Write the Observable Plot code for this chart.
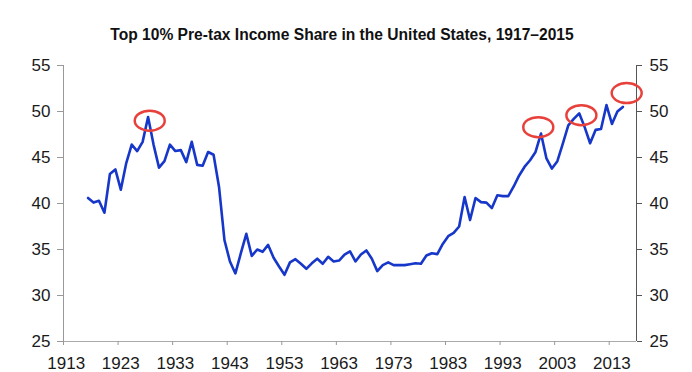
<!DOCTYPE html>
<html>
<head>
<meta charset="utf-8">
<script src="https://cdn.jsdelivr.net/npm/d3@7"></script>
<script src="https://cdn.jsdelivr.net/npm/@observablehq/plot@0.6"></script>
<style>
  html, body { margin: 0; padding: 0; background: #fff; }
  #title {
    width: 692px; height: 42px; box-sizing: border-box;
    padding-top: 26.6px; padding-right: 8px;
    font: bold 15.6px "Liberation Sans", Arial, sans-serif; line-height: 16px;
    text-align: center; color: #111; white-space: nowrap;
  }
</style>
</head>
<body>
<div id="title">Top 10% Pre-tax Income Share in the United States, 1917–2015</div>
<div id="chart"></div>
<script>
// Years 1917..2015 (categories)
const years = d3.range(1917, 2016);
// Top 10% pre-tax income share (%)
const shares = [
  40.6, 40.1, 40.3, 39.0, 43.2, 43.7, 41.5, 44.4, 46.4, 45.7,   // 1917-1926
  46.7, 49.4, 46.4, 43.9, 44.6, 46.4, 45.7, 45.8, 44.5, 46.7,   // 1927-1936
  44.2, 44.1, 45.6, 45.3, 41.8, 36.0, 33.7, 32.4, 34.6, 36.7,   // 1937-1946
  34.3, 35.0, 34.75, 35.5, 34.1, 33.15, 32.25, 33.6, 33.95, 33.45, // 1947-1956
  32.9, 33.5, 34.0, 33.45, 34.2, 33.7, 33.8, 34.45, 34.8, 33.7, // 1957-1966
  34.45, 34.9, 34.0, 32.65, 33.3, 33.6, 33.3, 33.3, 33.3, 33.4, // 1967-1976
  33.5, 33.45, 34.35, 34.6, 34.5, 35.6, 36.45, 36.8, 37.5, 40.7, // 1977-1986
  38.2, 40.6, 40.15, 40.1, 39.5, 40.9, 40.8, 40.8, 41.85, 43.05, // 1987-1996
  44.0, 44.7, 45.6, 47.6, 44.9, 43.8, 44.6, 46.5, 48.5, 49.2,   // 1997-2006
  49.8, 48.3, 46.55, 48.0, 48.1, 50.7, 48.65, 50.0, 50.5        // 2007-2015
];
const xTicks = [1913, 1923, 1933, 1943, 1953, 1963, 1973, 1983, 1993, 2003, 2013];
const yTicks = [25, 30, 35, 40, 45, 50, 55];
// Highlighted peaks (red ellipses)
const peakYears = [1928.3, 1999.5, 2007.4, 2015.7];
const peakValues = [49.0, 48.3, 49.6, 52.0];

const data = years.map((year, i) => ({year, share: shares[i]}));
const peaks = peakYears.map((year, i) => ({year, value: peakValues[i]}));

const font = "'Liberation Sans', Arial, sans-serif";

const chart = Plot.plot({
  width: 692,
  height: 330,
  marginLeft: 63,
  marginRight: 56,
  marginTop: 23,
  marginBottom: 31,
  x: {domain: [1913, 2018]},
  y: {domain: [25, 55]},
  style: {fontFamily: font, fontSize: "17px", background: "#fff", overflow: "visible"},
  marks: [
    Plot.ruleY([25], {stroke: "#aaa", strokeWidth: 1}),
    Plot.ruleX([1913], {stroke: "#999", strokeWidth: 1}),
    Plot.ruleX([2018], {stroke: "#555", strokeWidth: 1}),
    Plot.axisX({ticks: xTicks, tickSize: 4, tickFormat: () => "", stroke: "#999", label: null}),
    Plot.axisX({ticks: xTicks, tickSize: 0, tickPadding: 15.5, dx: 2.7, tickFormat: d => String(d),
      fill: "#1a1a1a", fontSize: 17, fontFamily: font, label: null}),
    Plot.axisY({anchor: "left", ticks: yTicks, tickSize: 6, tickPadding: 7, stroke: "#999",
      fill: "#1a1a1a", fontSize: 17, fontFamily: font, label: null}),
    Plot.axisY({anchor: "right", ticks: yTicks, tickSize: 5, tickPadding: 8, stroke: "#555",
      fill: "#1a1a1a", fontSize: 17, fontFamily: font, label: null}),
    Plot.line(data, {x: d => d.year + 0.5, y: "share", stroke: "#1637c9", strokeWidth: 2.6}),
    Plot.dot(peaks, {x: d => d.year + 0.5, y: "value", r: 10, stroke: "#e8413c", strokeWidth: 2.5, fill: "none"})
  ]
});

// turn the peak circles into ellipses
const ns = "http://www.w3.org/2000/svg";
chart.querySelectorAll("circle").forEach(c => {
  let cx = c.getAttribute("cx"), cy = c.getAttribute("cy");
  if (cx == null || cy == null) {
    const m = /translate\(([-\d.e]+)[ ,]+([-\d.e]+)\)/.exec(c.getAttribute("transform") || "");
    if (m) { cx = m[1]; cy = m[2]; }
  }
  const e = document.createElementNS(ns, "ellipse");
  e.setAttribute("cx", cx);
  e.setAttribute("cy", cy);
  e.setAttribute("rx", 15);
  e.setAttribute("ry", 10);
  c.replaceWith(e);
});

document.getElementById("chart").appendChild(chart);
</script>
</body>
</html>
